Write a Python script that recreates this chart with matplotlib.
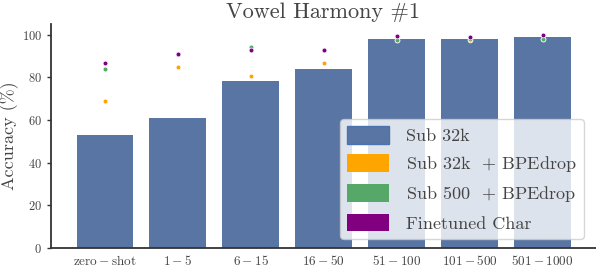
import numpy as np
import matplotlib
matplotlib.use('Agg')
import matplotlib.pyplot as plt
from matplotlib.patches import Patch

plt.rcParams['font.family'] = 'cmr10'
plt.rcParams['mathtext.fontset'] = 'cm'
plt.rcParams['axes.unicode_minus'] = False
plt.rcParams['axes.formatter.use_mathtext'] = True

# data
buckets = [r'$\mathrm{zero-shot}$', r'$1-5$', r'$6-15$', r'$16-50$',
           r'$51-100$', r'$101-500$', r'$501-1000$']
sub32k = [53.0, 61.0, 78.5, 84.0, 98.0, 98.0, 99.0]
sub32k_bpedrop = [68.7, 84.6, 80.8, 86.7, 97.5, 97.5, 98.0]
sub500_bpedrop = [83.7, 90.8, 94.2, 92.6, 97.5, 97.8, 98.1]
finetuned_char = [86.7, 90.8, 93.0, 92.6, 99.2, 98.7, 100.0]

bar_col = '#5875a4'
c_orange = 'orange'
c_green = '#55a868'
c_purple = 'purple'
gray = '#444444'

fig = plt.figure(figsize=(5.96, 2.68), dpi=100)
ax = fig.add_axes([0.0856, 0.0746, 0.914, 0.836])

x = np.arange(len(buckets))
ax.bar(x, sub32k, width=0.78, color=bar_col, zorder=1)
for vals, c in [(sub32k_bpedrop, c_orange), (sub500_bpedrop, c_green), (finetuned_char, c_purple)]:
    ax.scatter(x, vals, s=12, color=c, edgecolor='white', linewidth=0.5, zorder=3)

ax.set_xlim(-0.74, 6.73)
ax.set_ylim(0, 105)
ax.set_xticks(x)
ax.set_xticklabels(buckets, fontsize=9.5, color=gray)
ax.set_yticks([0, 20, 40, 60, 80, 100])
ax.tick_params(axis='y', labelsize=9, labelcolor=gray, length=3, width=1, color='#333333')
ax.tick_params(axis='x', length=0, pad=4)
ax.set_ylabel('Accuracy (%)', fontsize=13, color=gray, labelpad=2)
ax.set_title('Vowel Harmony #1', fontsize=16, color=gray, pad=4)

for s in ['top', 'right']:
    ax.spines[s].set_visible(False)
for s in ['left', 'bottom']:
    ax.spines[s].set_color('#333333')
    ax.spines[s].set_linewidth(1.3)

handles = [Patch(facecolor=bar_col, edgecolor='#4c72b0'),
           Patch(facecolor=c_orange),
           Patch(facecolor=c_green),
           Patch(facecolor=c_purple)]
labels = ['Sub 32k', r'Sub 32k  $+$ BPEdrop', r'Sub 500  $+$ BPEdrop', 'Finetuned Char']
leg = ax.legend(handles, labels, loc='lower right', bbox_to_anchor=(0.978, 0.04),
                borderaxespad=0, fontsize=13, framealpha=0.8,
                handlelength=2.3, handleheight=1.1, handletextpad=0.95,
                labelspacing=0.55)
for t in leg.get_texts():
    t.set_color(gray)

fig.savefig('out.png', dpi=100)
